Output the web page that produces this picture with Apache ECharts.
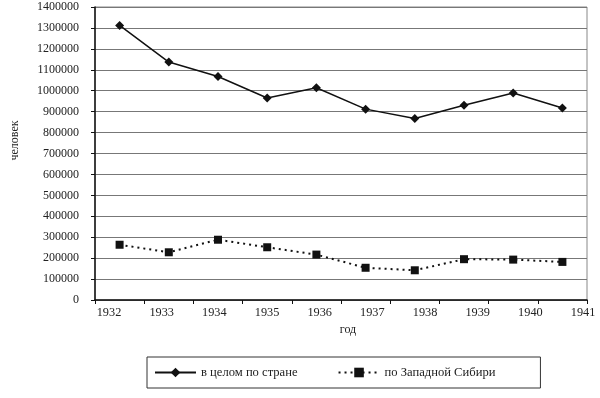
<!DOCTYPE html>
<html>
<head>
<meta charset="utf-8">
<script src="https://cdn.jsdelivr.net/npm/echarts@6/dist/echarts.min.js"></script>
<style>
  html, body { margin: 0; padding: 0; background: #fff; }
  #chart { width: 600px; height: 398px; }
</style>
</head>
<body>
<div id="chart"></div>
<script>
// years on the category axis, one point per year
const years = ['1932', '1933', '1934', '1935', '1936', '1937', '1938', '1939', '1940', '1941'];
// year labels printed under the axis (slightly spread in the original)
const yearLabels = [1932, 1933, 1934, 1935, 1936, 1937, 1938, 1939, 1940, 1941];

const wholeCountry = [1312000, 1137000, 1068000, 965000, 1014000, 912000, 867000, 931000, 989000, 917000];
const westSiberia = [264000, 228000, 288000, 252000, 217000, 154000, 142000, 195000, 193000, 182000];

const font = 'Liberation Serif';
const textColor = '#222';

const chart = echarts.init(document.getElementById('chart'));

const option = {
  animation: false,
  backgroundColor: '#fff',
  textStyle: { fontFamily: font, color: textColor },
  grid: {
    left: 95,
    right: 13,
    top: 7,
    bottom: 98,
    show: true,
    borderColor: '#888',
    borderWidth: 1
  },
  legend: {
    left: 147,
    top: 357,
    padding: [9, 45, 9, 7],
    itemGap: 40,
    itemWidth: 41,
    itemHeight: 12,
    borderColor: '#333',
    borderWidth: 1,
    textStyle: { fontFamily: font, fontSize: 12.6, color: textColor },
    data: ['в целом по стране', 'по Западной Сибири']
  },
  xAxis: [
    {
      type: 'category',
      data: years,
      boundaryGap: true,
      axisLine: { lineStyle: { color: '#111', width: 1.5 } },
      axisTick: { show: true, length: 4, inside: false, lineStyle: { color: '#111' } },
      axisLabel: { show: false },
      splitLine: { show: false }
    },
    {
      type: 'value',
      position: 'bottom',
      min: 1931.734,
      max: 1941.075,
      axisLine: { show: false },
      axisTick: { show: false },
      splitLine: { show: false },
      axisLabel: {
        customValues: yearLabels,
        margin: 7,
        fontFamily: font,
        fontSize: 12.3,
        color: textColor,
        formatter: v => String(v)
      },
      name: 'год',
      nameLocation: 'middle',
      nameGap: 23,
      nameTextStyle: { fontFamily: font, fontSize: 12, color: textColor, padding: [0, 0, 0, 14] }
    }
  ],
  yAxis: {
    type: 'value',
    min: 0,
    max: 1400000,
    interval: 100000,
    name: 'человек',
    nameLocation: 'middle',
    nameGap: 74,
    nameTextStyle: { fontFamily: font, fontSize: 12, color: textColor, padding: [0, 0, 0, 26] },
    axisLine: { show: true, lineStyle: { color: '#111', width: 1.5 } },
    axisTick: { show: true, length: 4, lineStyle: { color: '#111' } },
    axisLabel: {
      margin: 16,
      fontFamily: font,
      fontSize: 12,
      color: textColor,
      formatter: v => String(v)
    },
    splitLine: { show: true, lineStyle: { color: '#777', width: 1 } }
  },
  series: [
    {
      name: 'в целом по стране',
      type: 'line',
      xAxisIndex: 0,
      data: wholeCountry,
      symbol: 'diamond',
      symbolSize: 9,
      itemStyle: { color: '#111' },
      lineStyle: { color: '#111', width: 1.5 }
    },
    {
      name: 'по Западной Сибири',
      type: 'line',
      xAxisIndex: 0,
      data: westSiberia,
      symbol: 'rect',
      symbolSize: 8,
      itemStyle: { color: '#111' },
      lineStyle: { color: '#111', width: 2, type: [2, 4] }
    }
  ]
};

chart.setOption(option);
</script>
</body>
</html>
